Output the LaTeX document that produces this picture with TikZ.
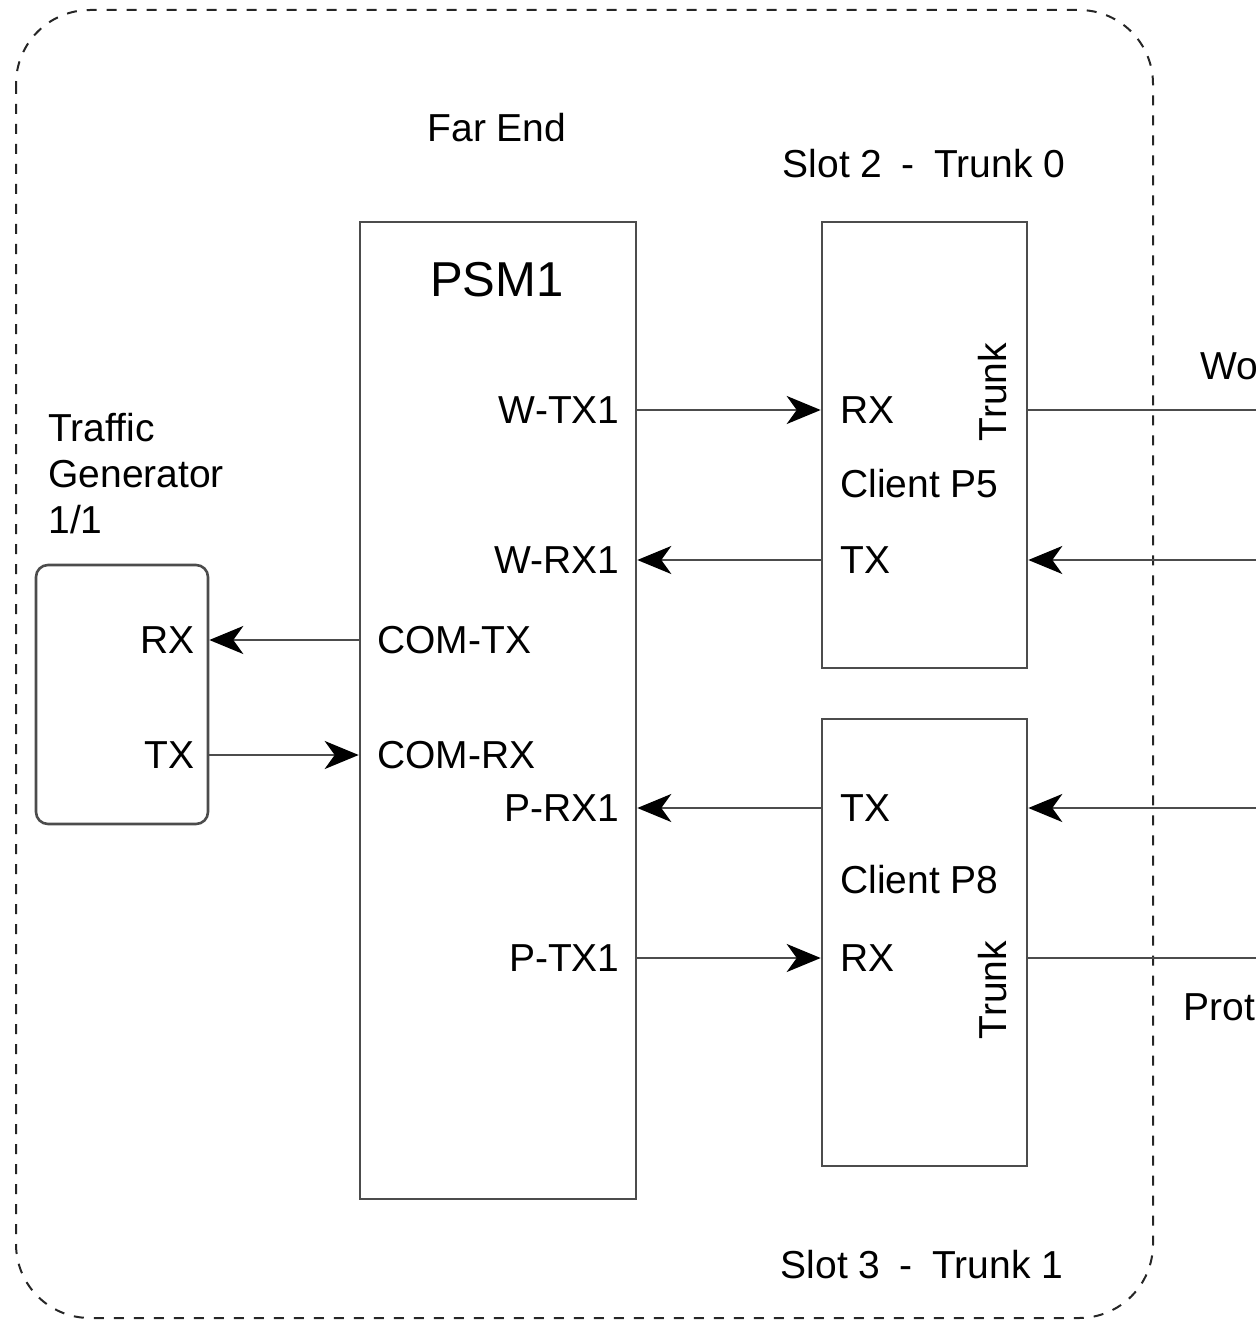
\documentclass[tikz,border=0pt]{standalone}
\usepackage{fontspec}
\setmainfont{Liberation Sans}
\usetikzlibrary{arrows.meta}
\begin{document}
\begin{tikzpicture}[x=0.5pt,y=-0.5pt,
  lbl/.style={inner sep=0pt,font=\fontsize{19.5}{23}\selectfont},
  boxst/.style={draw=black!70,line width=1.3pt,inner sep=0pt},
  conn/.style={draw=black!70,line width=1.3pt},
  arr/.style={conn,-{Stealth[length=17pt,width=14pt,inset=5pt,black]}},
  outerst/.style={draw=black!85,line width=1pt,dash pattern=on 5pt off 5pt,rounded corners=37pt}]
\useasboundingbox (0,0) rectangle (1256,1321);
% outer dashed frame
\draw[outerst] (16,10) rectangle (1153,1318);
% boxes
\node[boxst,minimum width=138pt,minimum height=488.5pt] (psm) at (498,710.5) {};
\node[boxst,minimum width=102.5pt,minimum height=223pt] (s2) at (924.5,445) {};
\node[boxst,minimum width=102.5pt,minimum height=223.5pt] (s3) at (924.5,942.5) {};
\node[boxst,minimum width=86pt,minimum height=129.5pt,rounded corners=6pt] (tg) at (122,694.5) {};
% titles
\node[lbl] (farend) at (497,128) {Far End};
\node[lbl] (slot2) at (924,164) {Slot 2 \hspace{0.22em}-\hspace{0.22em} Trunk 0};
\node[lbl] (slot3) at (922,1265) {Slot 3 \hspace{0.22em}-\hspace{0.22em} Trunk 1};
\node[inner sep=0pt,font=\fontsize{24.5}{28}\selectfont] (psmname) at (497,280) {PSM1};
\node[lbl,anchor=west,align=left,font=\fontsize{19.5}{23}\selectfont] (tgname) at (48,474) {Traffic\\Generator\\1/1};
% PSM port labels
\node[lbl,anchor=east] (wtx1) at (620,410) {W-TX1};
\node[lbl,anchor=east] (wrx1) at (620,560) {W-RX1};
\node[lbl,anchor=west] (comtx) at (377,640) {COM-TX};
\node[lbl,anchor=west] (comrx) at (377,755) {COM-RX};
\node[lbl,anchor=east] (prx1) at (620,808) {P-RX1};
\node[lbl,anchor=east] (ptx1) at (620,958) {P-TX1};
% slot 2 labels
\node[lbl,anchor=west] (s2rx) at (840,410) {RX};
\node[lbl,anchor=west] (s2cl) at (840,484) {Client P5};
\node[lbl,anchor=west] (s2tx) at (840,560) {TX};
\node[lbl,rotate=90] (s2tr) at (993,392) {Trunk};
% slot 3 labels
\node[lbl,anchor=west] (s3tx) at (840,808) {TX};
\node[lbl,anchor=west] (s3cl) at (840,880) {Client P8};
\node[lbl,anchor=west] (s3rx) at (840,958) {RX};
\node[lbl,rotate=90] (s3tr) at (993,990) {Trunk};
% traffic generator labels
\node[lbl,anchor=east] (tgrx) at (195,640) {RX};
\node[lbl,anchor=east] (tgtx) at (195,755) {TX};
% right side labels
\node[lbl,anchor=west] (wo) at (1200,366) {Wo};
\node[lbl,anchor=west] (prot) at (1183,1007) {Prot};
% port coordinates
\coordinate (psmW1) at (psm.east |- 0,410);
\coordinate (psmW2) at (psm.east |- 0,560);
\coordinate (psmP1) at (psm.east |- 0,808);
\coordinate (psmP2) at (psm.east |- 0,958);
\coordinate (psmC1) at (psm.west |- 0,640);
\coordinate (psmC2) at (psm.west |- 0,755);
\coordinate (s2a) at (s2.west |- 0,410);
\coordinate (s2b) at (s2.west |- 0,560);
\coordinate (s3a) at (s3.west |- 0,808);
\coordinate (s3b) at (s3.west |- 0,958);
\coordinate (s2ra) at (s2.east |- 0,410);
\coordinate (s2rb) at (s2.east |- 0,560);
\coordinate (s3ra) at (s3.east |- 0,808);
\coordinate (s3rb) at (s3.east |- 0,958);
\coordinate (tgR) at (tg.east |- 0,640);
\coordinate (tgT) at (tg.east |- 0,755);
\coordinate (edgeA) at (1256,410);
\coordinate (edgeB) at (1256,560);
\coordinate (edgeC) at (1256,808);
\coordinate (edgeD) at (1256,958);
% connectors
\draw[arr] (psmW1) -- (s2a);
\draw[arr] (s2b) -- (psmW2);
\draw[arr] (s3a) -- (psmP1);
\draw[arr] (psmP2) -- (s3b);
\draw[arr] (psmC1) -- (tgR);
\draw[arr] (tgT) -- (psmC2);
\draw[conn] (s2ra) -- (edgeA);
\draw[arr] (edgeB) -- (s2rb);
\draw[arr] (edgeC) -- (s3ra);
\draw[conn] (s3rb) -- (edgeD);
\end{tikzpicture}
\end{document}
